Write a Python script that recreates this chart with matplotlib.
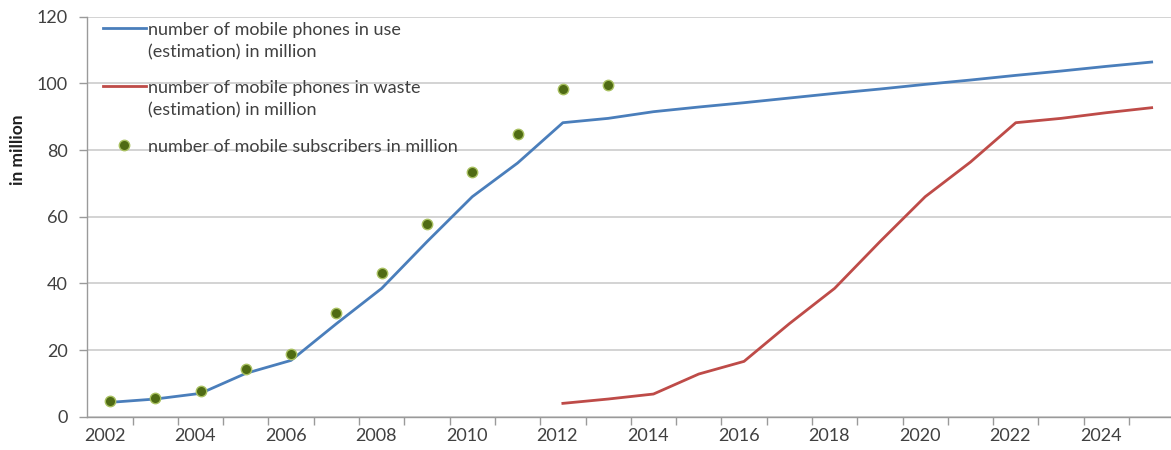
import numpy as np
import matplotlib
matplotlib.use("Agg")
import matplotlib.pyplot as plt
from matplotlib.lines import Line2D

nan = np.nan

years = list(range(2002, 2026))
phones_in_use = [4.3, 5.3, 7.0, 13.0, 16.9, 27.9, 38.5, 52.5, 66.0, 76.1, 88.2, 89.5,
                 91.5, 92.9, 94.2, 95.6, 97.0, 98.3, 99.7, 101.0, 102.4, 103.7, 105.1, 106.4]
phones_in_waste = [nan] * 10 + [4.0, 5.3, 6.8, 12.8, 16.6, 27.9, 38.5, 52.5, 66.0, 76.4,
                                88.2, 89.5, 91.2, 92.7]
subscribers = [4.6, 5.6, 7.6, 14.2, 18.7, 31.2, 43.2, 57.7, 73.3, 84.9, 98.2, 99.6] + [nan] * 12

labels = [
    "number of mobile phones in use\n(estimation) in million",
    "number of mobile phones in waste\n(estimation) in million",
    "number of mobile subscribers in million",
]

TEXT = "#404040"
AXIS = "#9a9a9a"
GRID = "#cccccc"
W, H = 1171, 450

plt.rcParams["font.family"] = ["Lato", "DejaVu Sans"]
plt.rcParams["font.size"] = 13

fig = plt.figure(figsize=(W / 100, H / 100), dpi=100)
# right edge of the plot area is cut off in the original
ax = fig.add_axes([87.3 / W, 33.3 / H, 1087 / W, 400 / H])

x = np.arange(len(years))
l_use, = ax.plot(x, phones_in_use, color="#4a7ebb", lw=2.0, zorder=3)
l_waste, = ax.plot(x, phones_in_waste, color="#be4b48", lw=2.0, zorder=3)
l_sub, = ax.plot(x, subscribers, ls="none", marker="o", ms=7.5, mfc="#4f6b14", mec="#a8c060",
                 mew=1.0, zorder=4)

ax.set_xlim(-0.5, len(years) - 0.5)
ax.set_ylim(0, 120)
ax.set_yticks(range(0, 121, 20))
ax.yaxis.grid(True, color=GRID, lw=1.2)
ax.set_axisbelow(True)

even = [i for i, y in enumerate(years) if y % 2 == 0]
ax.set_xticks([i - 0.12 for i in even])
ax.set_xticklabels([str(years[i]) for i in even])
ax.set_xticks(np.arange(0.5, len(years), 1.0), minor=True)
ax.tick_params(axis="x", which="major", length=0, pad=8, colors=TEXT)
ax.tick_params(axis="x", which="minor", length=6, color=AXIS, width=1.0)
ax.tick_params(axis="y", length=6, color=AXIS, width=1.0, pad=8, labelcolor=TEXT)

for side in ("top", "right"):
    ax.spines[side].set_visible(False)
for side in ("left", "bottom"):
    ax.spines[side].set_color(AXIS)
    ax.spines[side].set_linewidth(1.0)

# legend built by hand: handle sits on the first text line, like the original
entry_tops = [28, 86, 145]
line_step = 23
for handle, label, top in zip([l_use, l_waste, l_sub], labels, entry_tops):
    yf = 1 - top / H
    if handle.get_linestyle() == "None":
        fig.add_artist(Line2D([124 / W], [yf], ls="none", marker="o", ms=7.5,
                              mfc=handle.get_mfc(), mec=handle.get_mec(), mew=1.0))
    else:
        fig.add_artist(Line2D([103 / W, 146 / W], [yf, yf], color=handle.get_color(), lw=2.0))
    for k, part in enumerate(label.split("\n")):
        fig.text(148 / W, 1 - (top + k * line_step) / H, part, ha="left", va="center_baseline",
                 color=TEXT)

fig.text(18 / W, 1 - 150 / H, "in million", rotation=90, ha="center", va="center",
         fontweight="bold", fontsize=12.5, color="#202020")

fig.savefig("out.png", dpi=100)
